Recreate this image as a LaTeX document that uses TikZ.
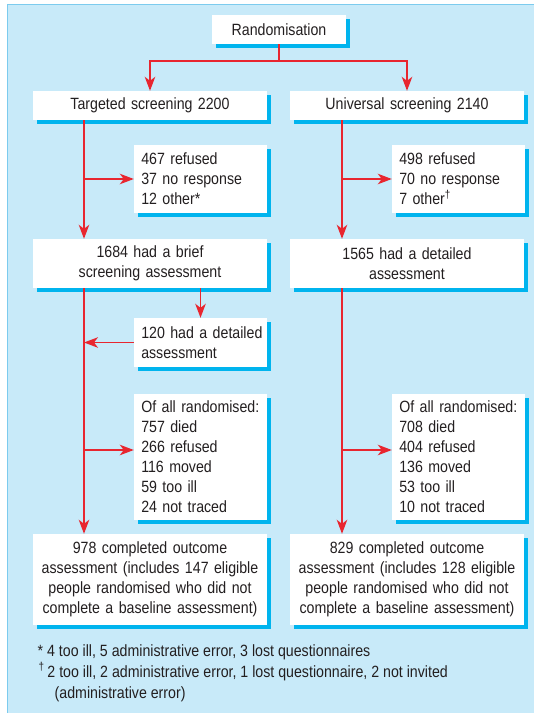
\documentclass[tikz,border=0pt]{standalone}
\usepackage{fontspec}
\setmainfont{Liberation Sans}[FakeStretch=0.87]
\usetikzlibrary{arrows.meta}
\definecolor{panel}{HTML}{C8EAF9}
\definecolor{panelborder}{HTML}{7CCBEE}
\definecolor{shadowc}{HTML}{00B4EE}
\definecolor{arrowred}{HTML}{E8262F}
\definecolor{ink}{HTML}{231F20}
\newcommand\diagfont{\fontsize{16.3}{20}\selectfont\hyphenpenalty=10000\exhyphenpenalty=10000\hbadness=10000\hfuzz=20pt}
\tikzset{
  box/.style={fill=white, inner sep=0pt, font=\diagfont, text=ink,
    preaction={fill=shadowc, transform canvas={shift={(4pt,-4pt)}}}},
  bigbox/.style={box, minimum width=234pt, text width=228pt, align=center},
  smallbox/.style={box, minimum width=133pt, text width=118.5pt, align=left},
  conn/.style={draw=arrowred, line width=1.6pt},
  arr/.style={conn, -{Stealth[length=14pt,width=10.5pt,inset=4pt]}},
  foot/.style={anchor=base west, inner sep=0pt, font=\diagfont, text=ink}
}
\begin{document}
\begin{tikzpicture}[x=1pt,y=-1pt]
\useasboundingbox (0,0) rectangle (534,713);
\begin{scope}
\clip (0,0) rectangle (534,713);
\fill[white] (0,0) rectangle (534,713);
\fill[panel] (7,4) rectangle (560,740);
\draw[panelborder, line width=1pt] (7,740) -- (7,4) -- (560,4);

% nodes
\node[box, minimum width=134pt, minimum height=29pt] (rand) at (279,29.5) {Randomisation};
\node[bigbox, minimum height=29pt] (tgt) at (150,105.5) {Targeted screening 2200};
\node[bigbox, minimum height=29pt] (uni) at (407,105.5) {Universal screening 2140};
\node[smallbox, minimum height=68pt] (ref1) at (200.5,179) {467~refused\\37~no~response\\12~other*};
\node[smallbox, minimum height=68pt] (ref2) at (458.5,179) {498~refused\\70~no~response\\7~other\textsuperscript{†}};
\node[bigbox, minimum height=49pt] (brief) at (150,263.5) {1684 had a brief\\screening assessment};
\node[bigbox, minimum height=49pt] (det) at (407,263.5) {1565 had a detailed\\assessment};
\node[smallbox, minimum height=49pt] (det120) at (200.5,342.5) {120~had~a~detailed\\assessment};
\node[smallbox, minimum height=126pt] (all1) at (200.5,457) {Of~all~randomised:\\757~died\\266~refused\\116~moved\\59~too~ill\\24~not~traced};
\node[smallbox, minimum height=126pt] (all2) at (458.5,457) {Of~all~randomised:\\708~died\\404~refused\\136~moved\\53~too~ill\\10~not~traced};
\node[bigbox, minimum height=91pt] (out1) at (150,579.5) {978 completed outcome\\assessment (includes 147 eligible\\people randomised who did not\\complete a baseline assessment)};
\node[bigbox, minimum height=91pt] (out2) at (407,579.5) {829 completed outcome\\assessment (includes 128 eligible\\people randomised who did not\\complete a baseline assessment)};

% footnotes
\node[foot] (fn1) at (37.5,656) {* 4 too ill, 5 administrative error, 3 lost questionnaires};
\node[foot] (fn2) at (38.5,677) {\textsuperscript{†}\,2 too ill, 2 administrative error, 1 lost questionnaire, 2 not invited};
\node[foot] (fn3) at (54.5,698) {(administrative error)};

% trunk positions
\coordinate (trL) at (84,0);
\coordinate (trR) at (342,0);
\coordinate (split) at (279,61);

% connectors
\draw[conn] (rand.south) -- (split);
\draw[arr] (split) -| (tgt.north);
\draw[arr] (split) -| (uni.north);

\draw[arr] (tgt.south -| trL) -- (brief.north -| trL);
\draw[arr] (ref1.west -| trL) -- (ref1.west);
\draw[arr] (uni.south -| trR) -- (det.north -| trR);
\draw[arr] (ref2.west -| trR) -- (ref2.west);

\draw[arr] (brief.south -| trL) -- (out1.north -| trL);
\draw[arr] (brief.south -| det120) -- (det120.north);
\draw[arr] (det120.west) -- (det120.west -| trL);
\draw[arr] ([yshift=7pt]all1.west -| trL) -- ([yshift=7pt]all1.west);

\draw[arr] (det.south -| trR) -- (out2.north -| trR);
\draw[arr] ([yshift=7pt]all2.west -| trR) -- ([yshift=7pt]all2.west);
\end{scope}
\end{tikzpicture}
\end{document}
